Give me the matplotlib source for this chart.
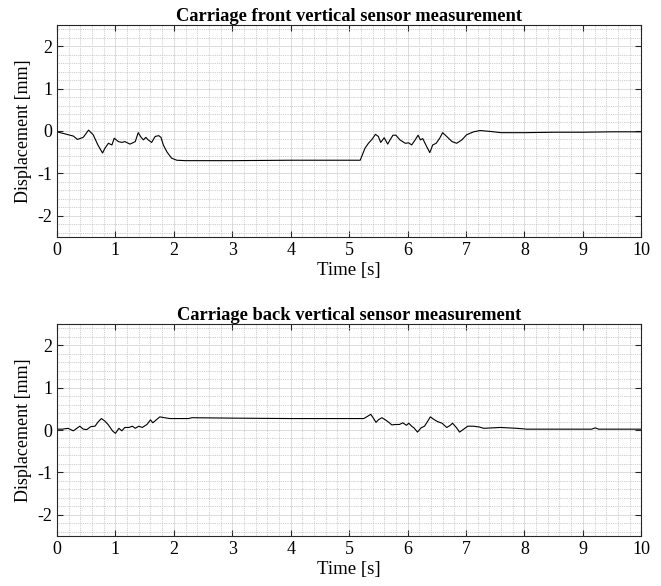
import numpy as np
import matplotlib
matplotlib.use("Agg")
import matplotlib.pyplot as plt
from matplotlib.ticker import MultipleLocator

plt.rcParams['font.family'] = ['Liberation Serif', 'DejaVu Serif']
plt.rcParams['axes.unicode_minus'] = False

# front sensor trace (time in s, displacement in mm)
t_front = [0.00, 0.14, 0.28, 0.35, 0.45, 0.54, 0.62, 0.70, 0.78, 0.82, 0.88,
           0.94, 0.98, 1.05, 1.11, 1.16, 1.25, 1.34, 1.39, 1.44, 1.48, 1.52,
           1.56, 1.62, 1.68, 1.74, 1.78, 1.82, 1.88, 1.96, 2.05, 2.20, 3.00,
           4.00, 5.00, 5.19, 5.27, 5.33, 5.39, 5.45, 5.50, 5.54, 5.60, 5.66,
           5.70, 5.75, 5.80, 5.87, 5.96, 6.02, 6.07, 6.13, 6.18, 6.22, 6.26,
           6.32, 6.38, 6.43, 6.49, 6.55, 6.60, 6.67, 6.76, 6.84, 6.93, 7.01,
           7.13, 7.24, 7.41, 7.60, 8.00, 8.50, 9.00, 9.50, 10.00]
v_front = [-0.02, -0.07, -0.12, -0.20, -0.15, 0.02, -0.09, -0.33, -0.52,
           -0.41, -0.29, -0.33, -0.17, -0.25, -0.27, -0.25, -0.31, -0.25,
           -0.04, -0.15, -0.21, -0.15, -0.21, -0.27, -0.13, -0.11, -0.15,
           -0.33, -0.49, -0.64, -0.69, -0.70, -0.70, -0.69, -0.69, -0.69,
           -0.41, -0.29, -0.20, -0.08, -0.13, -0.27, -0.16, -0.31, -0.21,
           -0.10, -0.10, -0.21, -0.29, -0.28, -0.33, -0.21, -0.10, -0.21,
           -0.18, -0.35, -0.51, -0.33, -0.29, -0.17, -0.04, -0.13, -0.25,
           -0.29, -0.21, -0.09, -0.02, 0.01, -0.01, -0.04, -0.04, -0.03,
           -0.03, -0.02, -0.02]

# back sensor trace
t_back = [0.00, 0.09, 0.19, 0.28, 0.34, 0.39, 0.45, 0.51, 0.58, 0.65, 0.71,
          0.76, 0.82, 0.88, 0.95, 1.00, 1.06, 1.11, 1.16, 1.23, 1.29, 1.34,
          1.40, 1.46, 1.54, 1.60, 1.64, 1.70, 1.76, 1.84, 1.93, 2.25, 2.31,
          3.00, 4.00, 5.00, 5.25, 5.30, 5.37, 5.41, 5.46, 5.50, 5.56, 5.62,
          5.68, 5.73, 5.79, 5.86, 5.92, 5.98, 6.02, 6.07, 6.11, 6.17, 6.23,
          6.29, 6.35, 6.39, 6.45, 6.51, 6.59, 6.67, 6.73, 6.77, 6.84, 6.89,
          6.96, 7.03, 7.13, 7.23, 7.30, 7.59, 7.87, 8.04, 8.60, 9.15, 9.21,
          9.27, 10.00]
v_back = [0.02, 0.02, 0.04, -0.02, 0.04, 0.09, 0.02, 0.01, 0.08, 0.09, 0.20,
          0.27, 0.21, 0.12, -0.02, -0.08, 0.04, -0.02, 0.06, 0.06, 0.09, 0.04,
          0.09, 0.06, 0.13, 0.24, 0.17, 0.24, 0.31, 0.29, 0.27, 0.27, 0.29,
          0.28, 0.27, 0.27, 0.27, 0.31, 0.37, 0.29, 0.18, 0.24, 0.29, 0.24,
          0.18, 0.12, 0.13, 0.13, 0.17, 0.11, 0.16, 0.09, 0.05, -0.05, 0.05,
          0.09, 0.22, 0.31, 0.25, 0.20, 0.16, 0.06, 0.11, 0.16, 0.05, -0.05,
          0.02, 0.09, 0.09, 0.07, 0.04, 0.06, 0.04, 0.02, 0.02, 0.02, 0.05,
          0.02, 0.02]

titles = ["Carriage front vertical sensor measurement",
          "Carriage back vertical sensor measurement"]
traces = [(t_front, v_front), (t_back, v_back)]
boxes = [[0.0862, 0.5956, 0.884, 0.3618],
         [0.0862, 0.0853, 0.884, 0.3618]]

fig = plt.figure(figsize=(6.61, 5.86), dpi=100)
for box, title, (t, v) in zip(boxes, titles, traces):
    ax = fig.add_axes(box)
    ax.plot(t, v, color='black', linewidth=0.8, solid_joinstyle='round')
    ax.set_xlim(0, 10)
    ax.set_ylim(-2.5, 2.5)
    ax.set_xticks(np.arange(0, 11, 1))
    ax.set_yticks([-2, -1, 0, 1, 2])
    ax.xaxis.set_minor_locator(MultipleLocator(0.2))
    ax.yaxis.set_minor_locator(MultipleLocator(0.2))
    ax.grid(which='major', color='#d6d6d6', linestyle='-', linewidth=0.6)
    ax.grid(which='minor', color='#bdbdbd', linestyle=(0, (1, 1.2)),
            linewidth=0.6)
    ax.set_axisbelow(True)
    ax.tick_params(which='major', direction='in', length=4, top=True,
                   right=True, labelsize=13, colors='#262626',
                   labelcolor='black', width=0.8)
    ax.tick_params(which='minor', length=0)
    for s in ax.spines.values():
        s.set_color('#262626')
        s.set_linewidth(0.8)
    ax.set_title(title, fontsize=13.3, fontweight='bold', pad=3)
    ax.set_xlabel("Time [s]", fontsize=13.5, labelpad=2)
    ax.set_ylabel("Displacement [mm]", fontsize=13, labelpad=4)

fig.savefig("out.png", dpi=100)
